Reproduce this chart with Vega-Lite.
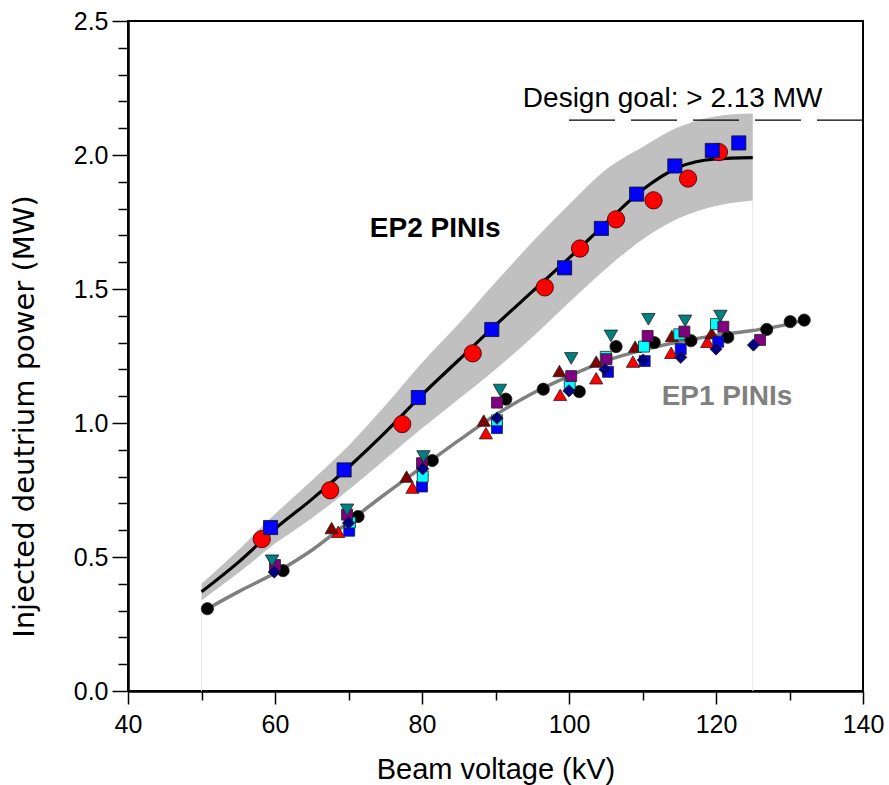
{
  "$schema": "https://vega.github.io/schema/vega-lite/v6.json",
  "width": 735,
  "height": 670,
  "autosize": {"type": "none"},
  "padding": {"left": 128, "top": 21, "right": 26, "bottom": 94},
  "background": "white",
  "config": {"view": {"stroke": "black", "strokeWidth": 2}},
  "resolve": {"axis": {"y": "independent"}},
  "layer": [
    {
      "data": {"values": [
        {"x": 50, "lo": 0.338, "hi": 0.400},
        {"x": 55, "lo": 0.44, "hi": 0.525},
        {"x": 60, "lo": 0.55, "hi": 0.66},
        {"x": 65, "lo": 0.645, "hi": 0.785},
        {"x": 70, "lo": 0.75, "hi": 0.915},
        {"x": 75, "lo": 0.865, "hi": 1.065},
        {"x": 80, "lo": 0.98, "hi": 1.225},
        {"x": 85, "lo": 1.09, "hi": 1.37},
        {"x": 90, "lo": 1.20, "hi": 1.525},
        {"x": 95, "lo": 1.32, "hi": 1.675},
        {"x": 100, "lo": 1.45, "hi": 1.815},
        {"x": 105, "lo": 1.575, "hi": 1.945},
        {"x": 110, "lo": 1.685, "hi": 2.03},
        {"x": 115, "lo": 1.765, "hi": 2.105},
        {"x": 120, "lo": 1.81, "hi": 2.145},
        {"x": 125, "lo": 1.83, "hi": 2.155}
      ]},
      "mark": {"type": "area", "color": "#c0c0c0", "interpolate": "monotone"},
      "encoding": {
        "x": {"field": "x", "type": "quantitative", "scale": {"domain": [40, 140], "nice": false, "zero": false},
          "axis": {
            "title": "Beam voltage (kV)",
            "values": [40,45,50,55,60,65,70,75,80,85,90,95,100,105,110,115,120,125,130,135,140],
            "labelExpr": "datum.value % 20 === 0 ? datum.label : ''",
            "tickSize": {"condition": {"test": "datum.value % 20 === 0", "value": 13}, "value": 9},
            "tickColor": "black", "tickWidth": 1.5,
            "domainColor": "black", "domainWidth": 2.5,
            "grid": false,
            "labelFont": "Liberation Sans", "labelFontSize": 25, "labelColor": "black",
            "labelBaseline": "alphabetic", "labelPadding": 28,
            "labelFlush": false, "labelOverlap": false,
            "titleFont": "Liberation Sans", "titleFontSize": 29, "titleFontWeight": "normal", "titleColor": "black",
            "titleBaseline": "alphabetic", "titleY": 87
          }
        },
        "y": {"field": "lo", "type": "quantitative", "scale": {"domain": [0, 2.5], "nice": false, "zero": false},
          "axis": {
            "orient": "left",
            "title": "Injected deutrium power (MW)",
            "values": [0, 0.5, 1, 1.5, 2, 2.5],
            "format": ".1f",
            "tickSize": 16,
            "tickColor": "black", "tickWidth": 1.5,
            "domainColor": "black", "domainWidth": 2.5,
            "grid": false,
            "labelFont": "Liberation Sans", "labelFontSize": 25, "labelColor": "black",
            "labelPadding": 4, "labelFlush": false, "labelOverlap": false,
            "titleFont": "DejaVu Sans", "titleFontSize": 29, "titleFontWeight": "normal", "titleColor": "black",
            "titleBaseline": "alphabetic", "titleAngle": 270, "titleX": -95, "titleY": 395
          }
        },
        "y2": {"field": "hi"}
      }
    },
    {
      "data": {"values": [
        {"x": 50, "y": 0, "y2": 0.30},
        {"x": 125, "y": 0, "y2": 1.83}
      ]},
      "mark": {"type": "rule", "color": "#e6e6e6", "strokeWidth": 1},
      "encoding": {
        "x": {"field": "x", "type": "quantitative"},
        "y": {"field": "y", "type": "quantitative",
          "axis": {
            "orient": "left",
            "title": null,
            "values": [0.1,0.2,0.3,0.4,0.6,0.7,0.8,0.9,1.1,1.2,1.3,1.4,1.6,1.7,1.8,1.9,2.1,2.2,2.3,2.4],
            "labels": false,
            "domain": false,
            "grid": false,
            "tickSize": 10,
            "tickColor": "black", "tickWidth": 1.5
          }
        },
        "y2": {"field": "y2"}
      }
    },
    {
      "data": {"values": [
        {"x": 50.8, "y": 0.307}, {"x": 55, "y": 0.37}, {"x": 60, "y": 0.44},
        {"x": 65, "y": 0.525}, {"x": 70, "y": 0.63}, {"x": 75, "y": 0.735},
        {"x": 80, "y": 0.835}, {"x": 85, "y": 0.935}, {"x": 90, "y": 1.03},
        {"x": 95, "y": 1.11}, {"x": 100, "y": 1.175}, {"x": 105, "y": 1.232},
        {"x": 110, "y": 1.272}, {"x": 115, "y": 1.303}, {"x": 120, "y": 1.327},
        {"x": 125, "y": 1.345}, {"x": 130, "y": 1.37}, {"x": 132, "y": 1.385}
      ]},
      "mark": {"type": "line", "color": "#808080", "strokeWidth": 3.5, "interpolate": "monotone"},
      "encoding": {
        "x": {"field": "x", "type": "quantitative"},
        "y": {"field": "y", "type": "quantitative", "axis": null}
      }
    },
    {
      "data": {"values": [
        {"x": 50, "y": 0.37}, {"x": 55, "y": 0.48}, {"x": 60, "y": 0.605},
        {"x": 65, "y": 0.715}, {"x": 70, "y": 0.835}, {"x": 75, "y": 0.965},
        {"x": 80, "y": 1.105}, {"x": 85, "y": 1.235}, {"x": 90, "y": 1.365},
        {"x": 95, "y": 1.49}, {"x": 100, "y": 1.615}, {"x": 105, "y": 1.745},
        {"x": 110, "y": 1.87}, {"x": 115, "y": 1.955}, {"x": 120, "y": 1.985},
        {"x": 125, "y": 1.99}
      ]},
      "mark": {"type": "line", "color": "black", "strokeWidth": 3.2, "interpolate": "monotone"},
      "encoding": {
        "x": {"field": "x", "type": "quantitative"},
        "y": {"field": "y", "type": "quantitative", "axis": null}
      }
    },
    {
      "data": {"values": [{"x": 100, "x2": 140, "y": 2.13}]},
      "mark": {"type": "rule", "color": "black", "strokeWidth": 1.2, "strokeDash": [46, 16]},
      "encoding": {
        "x": {"field": "x", "type": "quantitative"},
        "x2": {"field": "x2"},
        "y": {"field": "y", "type": "quantitative", "axis": null}
      }
    },
    {
      "data": {"values": [
        {"series": "black", "x": 50.8, "y": 0.307}, {"series": "black", "x": 61.1, "y": 0.449},
        {"series": "black", "x": 71.3, "y": 0.651}, {"series": "black", "x": 81.4, "y": 0.860},
        {"series": "black", "x": 91.4, "y": 1.089}, {"series": "black", "x": 96.5, "y": 1.126},
        {"series": "black", "x": 101.4, "y": 1.117}, {"series": "black", "x": 106.4, "y": 1.285},
        {"series": "black", "x": 111.6, "y": 1.30}, {"series": "black", "x": 116.6, "y": 1.307},
        {"series": "black", "x": 121.6, "y": 1.32}, {"series": "black", "x": 126.9, "y": 1.349},
        {"series": "black", "x": 130.1, "y": 1.378}, {"series": "black", "x": 132.0, "y": 1.384},
        {"series": "red", "x": 68.6, "y": 0.594}, {"series": "red", "x": 78.7, "y": 0.759},
        {"series": "red", "x": 88.7, "y": 0.962}, {"series": "red", "x": 98.8, "y": 1.105},
        {"series": "red", "x": 103.7, "y": 1.167}, {"series": "red", "x": 108.7, "y": 1.229},
        {"series": "red", "x": 113.9, "y": 1.262}, {"series": "red", "x": 118.8, "y": 1.303},
        {"series": "darkred", "x": 67.7, "y": 0.608}, {"series": "darkred", "x": 77.9, "y": 0.800},
        {"series": "darkred", "x": 88.4, "y": 1.009}, {"series": "darkred", "x": 98.7, "y": 1.194},
        {"series": "darkred", "x": 103.7, "y": 1.229}, {"series": "darkred", "x": 109.0, "y": 1.285},
        {"series": "darkred", "x": 114.0, "y": 1.325}, {"series": "darkred", "x": 119.4, "y": 1.335},
        {"series": "blue", "x": 70.1, "y": 0.598}, {"series": "blue", "x": 80.0, "y": 0.763},
        {"series": "blue", "x": 90.2, "y": 0.981}, {"series": "blue", "x": 105.3, "y": 1.191},
        {"series": "blue", "x": 110.3, "y": 1.231}, {"series": "blue", "x": 115.2, "y": 1.276},
        {"series": "blue", "x": 120.3, "y": 1.303},
        {"series": "cyan", "x": 70.2, "y": 0.629}, {"series": "cyan", "x": 80.1, "y": 0.800},
        {"series": "cyan", "x": 90.2, "y": 1.01}, {"series": "cyan", "x": 100.1, "y": 1.146},
        {"series": "cyan", "x": 105.0, "y": 1.247}, {"series": "cyan", "x": 110.2, "y": 1.285},
        {"series": "cyan", "x": 115.0, "y": 1.331}, {"series": "cyan", "x": 120.0, "y": 1.369},
        {"series": "purple", "x": 60.0, "y": 0.470}, {"series": "purple", "x": 69.8, "y": 0.658},
        {"series": "purple", "x": 80.0, "y": 0.850}, {"series": "purple", "x": 90.2, "y": 1.076},
        {"series": "purple", "x": 100.3, "y": 1.175}, {"series": "purple", "x": 105.1, "y": 1.238},
        {"series": "purple", "x": 110.7, "y": 1.325}, {"series": "purple", "x": 115.7, "y": 1.341},
        {"series": "purple", "x": 121.0, "y": 1.359}, {"series": "purple", "x": 126.0, "y": 1.31},
        {"series": "teal", "x": 59.6, "y": 0.486}, {"series": "teal", "x": 69.8, "y": 0.676},
        {"series": "teal", "x": 80.2, "y": 0.875}, {"series": "teal", "x": 90.6, "y": 1.123},
        {"series": "teal", "x": 100.3, "y": 1.241}, {"series": "teal", "x": 105.7, "y": 1.325},
        {"series": "teal", "x": 110.8, "y": 1.387}, {"series": "teal", "x": 115.8, "y": 1.381},
        {"series": "teal", "x": 120.6, "y": 1.399},
        {"series": "navy", "x": 59.9, "y": 0.444}, {"series": "navy", "x": 70.0, "y": 0.627},
        {"series": "navy", "x": 80.1, "y": 0.829}, {"series": "navy", "x": 90.2, "y": 1.018},
        {"series": "navy", "x": 100.0, "y": 1.12}, {"series": "navy", "x": 104.9, "y": 1.2},
        {"series": "navy", "x": 110.1, "y": 1.235}, {"series": "navy", "x": 115.2, "y": 1.245},
        {"series": "navy", "x": 120.0, "y": 1.276}, {"series": "navy", "x": 125.1, "y": 1.291}
      ]},
      "mark": {"type": "point", "filled": true, "opacity": 1, "stroke": "#222222", "strokeWidth": 0.8},
      "encoding": {
        "x": {"field": "x", "type": "quantitative"},
        "y": {"field": "y", "type": "quantitative", "axis": null},
        "shape": {"field": "series", "type": "nominal", "legend": null,
          "scale": {"domain": ["black", "red", "darkred", "blue", "cyan", "purple", "teal", "navy"],
                    "range": ["circle", "triangle-up", "triangle-up", "square", "square", "square", "triangle-down", "diamond"]}},
        "fill": {"field": "series", "type": "nominal", "legend": null,
          "scale": {"domain": ["black", "red", "darkred", "blue", "cyan", "purple", "teal", "navy"],
                    "range": ["#000000", "#ff0000", "#800000", "#0000ff", "#00ffff", "#800080", "#008080", "#000080"]}},
        "size": {"field": "series", "type": "ordinal", "legend": null,
          "scale": {"type": "ordinal", "domain": ["black", "red", "darkred", "blue", "cyan", "purple", "teal", "navy"],
                    "range": [150, 175, 175, 120, 120, 120, 180, 150]}}
      }
    },
    {
      "data": {"values": [
        {"x": 58.2, "y": 0.567}, {"x": 67.5, "y": 0.749}, {"x": 77.3, "y": 0.996},
        {"x": 86.9, "y": 1.26}, {"x": 96.7, "y": 1.506}, {"x": 101.5, "y": 1.651},
        {"x": 106.4, "y": 1.760}, {"x": 111.5, "y": 1.831}, {"x": 116.2, "y": 1.912},
        {"x": 120.4, "y": 2.011}
      ]},
      "mark": {"type": "point", "shape": "circle", "filled": true, "size": 300, "fill": "#ff0000", "opacity": 1, "stroke": "#300000", "strokeWidth": 0.8},
      "encoding": {
        "x": {"field": "x", "type": "quantitative"},
        "y": {"field": "y", "type": "quantitative", "axis": null}
      }
    },
    {
      "data": {"values": [
        {"x": 59.4, "y": 0.61}, {"x": 69.4, "y": 0.825}, {"x": 79.5, "y": 1.095},
        {"x": 89.5, "y": 1.349}, {"x": 99.4, "y": 1.579}, {"x": 104.4, "y": 1.726},
        {"x": 109.2, "y": 1.854}, {"x": 114.4, "y": 1.959}, {"x": 119.5, "y": 2.017},
        {"x": 123.1, "y": 2.045}
      ]},
      "mark": {"type": "point", "shape": "square", "filled": true, "size": 200, "fill": "#0000ff", "opacity": 1, "stroke": "#111111", "strokeWidth": 0.8},
      "encoding": {
        "x": {"field": "x", "type": "quantitative"},
        "y": {"field": "y", "type": "quantitative", "axis": null}
      }
    },
    {
      "data": {"values": [{"x": 114.1, "y": 2.179, "label": "Design goal: > 2.13 MW"}]},
      "mark": {"type": "text", "font": "Liberation Sans", "fontSize": 28, "color": "black", "align": "center", "baseline": "alphabetic"},
      "encoding": {
        "x": {"field": "x", "type": "quantitative"},
        "y": {"field": "y", "type": "quantitative", "axis": null},
        "text": {"field": "label"}
      }
    },
    {
      "data": {"values": [{"x": 81.8, "y": 1.695, "label": "EP2 PINIs"}]},
      "mark": {"type": "text", "font": "Liberation Sans", "fontSize": 28, "fontWeight": "bold", "color": "black", "align": "center", "baseline": "alphabetic"},
      "encoding": {
        "x": {"field": "x", "type": "quantitative"},
        "y": {"field": "y", "type": "quantitative", "axis": null},
        "text": {"field": "label"}
      }
    },
    {
      "data": {"values": [{"x": 121.5, "y": 1.067, "label": "EP1 PINIs"}]},
      "mark": {"type": "text", "font": "Liberation Sans", "fontSize": 28, "fontWeight": "bold", "color": "#808080", "align": "center", "baseline": "alphabetic"},
      "encoding": {
        "x": {"field": "x", "type": "quantitative"},
        "y": {"field": "y", "type": "quantitative", "axis": null},
        "text": {"field": "label"}
      }
    }
  ]
}
